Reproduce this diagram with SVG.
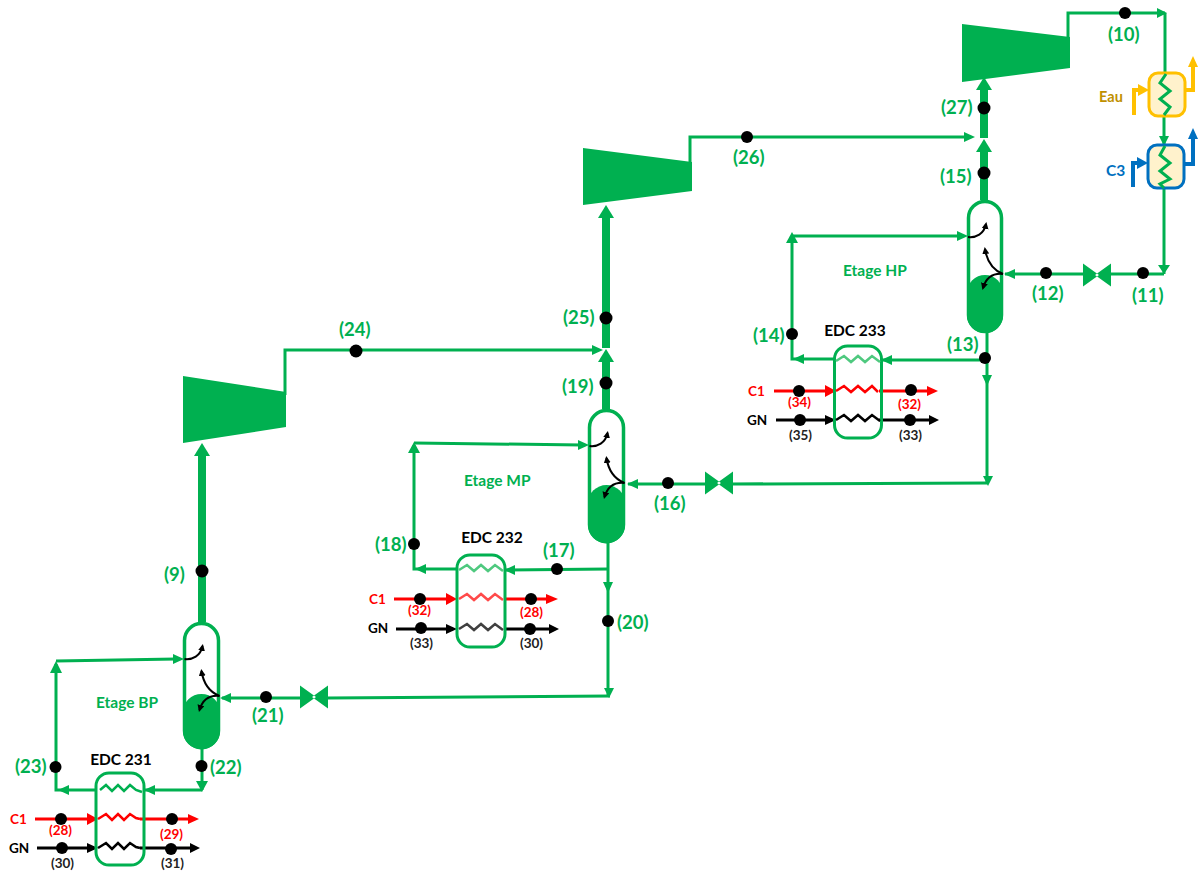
<svg xmlns="http://www.w3.org/2000/svg" width="1198" height="873" viewBox="0 0 1198 873">
<style>
text{font-family:Lato,"Open Sans","Liberation Sans",sans-serif;font-weight:700}
.lg{font-size:18.500px;fill:#00b050}
.st{font-size:15.500px;fill:#00b050}
.ed{font-size:15.500px;fill:#000}
.c1{font-size:13.500px;fill:#f00}
.gn{font-size:13.500px;fill:#000}
.sr{font-size:13.500px;fill:#f00}
.sk{font-size:13.500px;fill:#222}
.g{fill:none;stroke:#00b050;stroke-width:3}
.t{fill:none;stroke:#00b050;stroke-width:8}
.r{fill:none;stroke:#f00;stroke-width:3}
.k{fill:none;stroke:#000;stroke-width:3}
.z{fill:none;stroke-width:2.500}
.ga{fill:#00b050}.ra{fill:#f00}.ka{fill:#000}
.d{fill:#000}
.cv{fill:none;stroke:#000;stroke-width:2}
.v{fill:#fff;stroke:#00b050;stroke-width:3.500}
.x{fill:none;stroke:#00b050;stroke-width:3}
</style>
<defs>
<marker id="kh" markerWidth="8" markerHeight="8" refX="5" refY="3.500" orient="auto" markerUnits="userSpaceOnUse"><path d="M0 0L7 3.500L0 7Z" fill="#000"/></marker>
<g id="curves">
<path d="M-17 37 C-9 38 -1 34 1 24" class="cv" marker-end="url(#kh)"/>
<path d="M18 74 C8 70 2 62 0 49" class="cv" marker-end="url(#kh)"/>
<path d="M18 74 C8 73 1 78 -2 88" class="cv" marker-end="url(#kh)"/>
</g>
<path id="valve" d="M-14 -11.500L2 0L-14 11.500Z M14 -11.500L-2 0L14 11.500Z" fill="#00b050"/>
</defs>

<g id="connectors">
<!-- BP stage -->
<path class="t" d="M202 622V452"/><path class="ga" d="M194 456L202 443L210 456Z"/>
<path class="g" d="M202 749V790"/><path class="ga" d="M196 781H208L202 792Z"/>
<path class="g" d="M202 790H145"/><path class="ga" d="M155 785L144 790L155 795Z"/>
<path class="g" d="M96 790H56V664"/><path class="ga" d="M50 673L56 661L62 673Z"/><path class="ga" d="M69 785L58 790L69 795Z"/>
<path class="g" d="M56 661L176 659"/><path class="ga" d="M173 654L184 659L173 664Z"/>
<path class="g" d="M610 696L328 698"/><path class="g" d="M300 698H222"/><path class="ga" d="M231 693L220 698L231 703Z"/>
<path class="r" d="M35 819H94"/><path class="ra" d="M87 813L98 819L87 825Z"/>
<path class="r" d="M140 819H190"/><path class="ra" d="M188 814L199 819L188 824Z"/>
<path class="k" d="M37 848H94"/><path class="ka" d="M87 843L98 848L87 853Z"/>
<path class="k" d="M140 848H192"/><path class="ka" d="M190 843L200 848L190 853Z"/>
<!-- compressor BP outlet -->
<path class="g" d="M285 395V350H598"/><path class="ga" d="M592 345L603 350L592 355Z"/>
<!-- MP stage -->
<path class="t" d="M606 409V358"/><path class="ga" d="M598 362L606 349L614 362Z"/>
<path class="t" d="M606 348V215"/><path class="ga" d="M598 218L606 205L614 218Z"/>
<path class="g" d="M608 543V696"/><path class="ga" d="M603 582H613L608 593Z"/><path class="ga" d="M604 688H614L609 698Z"/>
<path class="g" d="M608 569L506 570"/><path class="ga" d="M515 565L504 570L515 575Z"/>
<path class="g" d="M456 569H414V445"/><path class="ga" d="M426 564L415 569L426 574Z"/><path class="ga" d="M408 453L414 442L420 453Z"/>
<path class="g" d="M414 443L582 445"/><path class="ga" d="M578 440L589 445L578 450Z"/>
<path class="g" d="M988 483L732 484"/><path class="g" d="M705 484H628"/><path class="ga" d="M638 479L627 484L638 489Z"/>
<path class="r" d="M394 599H453"/><path class="ra" d="M446 593L457 599L446 605Z"/>
<path class="r" d="M505 599H548"/><path class="ra" d="M546 594L558 599L546 604Z"/>
<path class="k" d="M396 629H453"/><path class="ka" d="M446 624L457 629L446 634Z"/>
<path class="k" d="M505 629H550"/><path class="ka" d="M549 624L559 629L549 634Z"/>
<!-- compressor MP outlet -->
<path class="g" d="M690 165V137H968"/><path class="ga" d="M964 132L975 137L964 142Z"/>
<!-- HP stage -->
<path class="t" d="M984 200V148"/><path class="ga" d="M976 152L984 139L992 152Z"/>
<path class="t" d="M984 138V86"/><path class="ga" d="M976 90L984 77L992 90Z"/>
<path class="g" d="M987 333V483"/><path class="ga" d="M982 375H992L987 386Z"/><path class="ga" d="M983 476H993L988 486Z"/>
<path class="g" d="M985 360H882"/><path class="ga" d="M892 355L881 360L892 365Z"/>
<path class="g" d="M834 359H792V238"/><path class="ga" d="M804 354L793 359L804 364Z"/><path class="ga" d="M786 243L792 232L798 243Z"/>
<path class="g" d="M792 236H960"/><path class="ga" d="M957 231L968 236L957 241Z"/>
<path class="g" d="M1111 274H1164"/><path class="g" d="M1084 274H1005"/><path class="ga" d="M1015 269L1004 274L1015 279Z"/>
<path class="g" d="M1164 188V274"/><path class="ga" d="M1158 265H1170L1164 274Z"/>
<path class="g" d="M1068 40V13H1165"/><path class="ga" d="M1157 8L1167 13L1157 18Z"/>
<path class="g" d="M1165 13V74"/>
<path class="g" d="M1164 115V145"/><path class="ga" d="M1159 136H1169L1164 146Z"/>
<path class="r" d="M774 391H832"/><path class="ra" d="M825 385L836 391L825 397Z"/>
<path class="r" d="M879 391H928"/><path class="ra" d="M927 386L938 391L927 396Z"/>
<path class="k" d="M776 420H832"/><path class="ka" d="M825 415L836 420L825 425Z"/>
<path class="k" d="M879 420H930"/><path class="ka" d="M929 415L939 420L929 425Z"/>
<!-- Eau / C3 -->
<path fill="none" stroke="#ffc000" stroke-width="4" d="M1134 115V90H1142"/><path fill="#ffc000" d="M1138 84L1149 90L1138 96Z"/>
<path fill="none" stroke="#ffc000" stroke-width="4" d="M1185 90H1193V66"/><path fill="#ffc000" d="M1188 67L1193 56L1198 67Z"/>
<path fill="none" stroke="#0070c0" stroke-width="4" d="M1133 187V163H1142"/><path fill="#0070c0" d="M1137 157L1148 163L1137 169Z"/>
<path fill="none" stroke="#0070c0" stroke-width="4" d="M1184 164H1193V137"/><path fill="#0070c0" d="M1188 139L1193 128L1198 139Z"/>
</g>

<g id="comp-bp"><path class="ga" d="M183 376L286 392V427L183 443Z"/></g>
<g id="comp-mp"><path class="ga" d="M583 148L692 162V191L583 205Z"/></g>
<g id="comp-hp"><path class="ga" d="M962 24L1070 37V68L962 82Z"/></g>

<g id="col-bp">
<rect x="184.500" y="623.500" width="34" height="124" rx="17" class="v"/>
<path class="ga" d="M183 731V712A18.500 18 0 0 1 220 712V731A18.500 18.500 0 0 1 183 731Z"/>
<use href="#curves" transform="translate(201.500 622)"/>
</g>
<g id="col-mp">
<rect x="589.500" y="410.500" width="34" height="131" rx="17" class="v"/>
<path class="ga" d="M588 525V503A18.500 18 0 0 1 625 503V525A18.500 18.500 0 0 1 588 525Z"/>
<use href="#curves" transform="translate(606.500 409)"/>
</g>
<g id="col-hp">
<rect x="968.500" y="201.500" width="33" height="130" rx="16.500" class="v"/>
<path class="ga" d="M967 315V293A18 18 0 0 1 1003 293V315A18 18 0 0 1 967 315Z"/>
<use href="#curves" transform="translate(985 200)"/>
</g>

<g id="valve-bp"><use href="#valve" transform="translate(314 697)"/></g>
<g id="valve-mp"><use href="#valve" transform="translate(719 483)"/></g>
<g id="valve-hp"><use href="#valve" transform="translate(1097 275)"/></g>

<g id="edc231">
<rect x="96" y="773" width="48" height="92" rx="13" class="x"/>
<path class="z" stroke="#00b050" d="M100 790L106 785L112 791L118 785L124 791L130 785L136 790L142 792"/>
<path class="z" stroke="#f00" d="M98 819L106 814L112 820L118 814L124 820L130 814L136 818L140 819"/>
<path class="z" stroke="#000" d="M98 848L106 843L112 849L118 843L124 849L130 843L136 847L140 848"/>
<text class="ed" x="121" y="765" text-anchor="middle">EDC 231</text>
</g>
<g id="edc232">
<rect x="457" y="555" width="48" height="92" rx="13" class="x"/>
<path class="z" stroke="#4fc97f" d="M459 570L467 565L474 571L481 565L488 571L495 565L503 571"/>
<path class="z" stroke="#ff4a4a" d="M459 599L467 594L474 600L481 594L488 600L495 594L503 600"/>
<path class="z" stroke="#404040" d="M459 629L467 624L474 630L481 624L488 630L495 624L503 630"/>
<text class="ed" x="492" y="543" text-anchor="middle">EDC 232</text>
</g>
<g id="edc233">
<rect x="834.500" y="346" width="47" height="92" rx="13" class="x"/>
<path class="z" stroke="#4fc97f" d="M836 361L844 356L851 362L858 356L865 362L872 356L880 362"/>
<path class="z" stroke="#f00" d="M836 391L844 386L851 392L858 386L865 392L872 386L878 392"/>
<path class="z" stroke="#000" d="M836 420L844 415L851 421L858 415L865 421L872 415L880 421"/>
<text class="ed" x="855" y="336" text-anchor="middle">EDC 233</text>
</g>
<g id="hx-eau">
<rect x="1149" y="73" width="36" height="43" rx="9" fill="#fff2cc" stroke="#ffc000" stroke-width="3"/>
<path fill="none" stroke="#00b050" stroke-width="3" d="M1166 74L1160 83L1170 91L1160 99L1170 107L1164 115"/>
</g>
<g id="hx-c3">
<rect x="1148" y="145" width="36" height="43" rx="9" fill="#fff2cc" stroke="#0070c0" stroke-width="3"/>
<path fill="none" stroke="#00b050" stroke-width="3" d="M1165 146L1160 155L1170 163L1160 171L1170 179L1160 184L1164 188"/>
</g>

<g id="points">
<circle class="d" cx="202" cy="571" r="6.500"/><circle class="d" cx="201.500" cy="766" r="6"/><circle class="d" cx="55.500" cy="767" r="6"/><circle class="d" cx="266" cy="697" r="6"/>
<circle class="d" cx="61" cy="819" r="6"/><circle class="d" cx="172" cy="819" r="6"/><circle class="d" cx="62" cy="848" r="6"/><circle class="d" cx="171" cy="849" r="6"/>
<circle class="d" cx="356" cy="351" r="6.500"/><circle class="d" cx="606" cy="318" r="6.500"/><circle class="d" cx="606" cy="383" r="6.500"/>
<circle class="d" cx="414" cy="544" r="6"/><circle class="d" cx="557" cy="569" r="6"/><circle class="d" cx="608" cy="621" r="6"/><circle class="d" cx="668" cy="483" r="6"/>
<circle class="d" cx="420" cy="599" r="6"/><circle class="d" cx="531" cy="599" r="6"/><circle class="d" cx="421" cy="628" r="6"/><circle class="d" cx="530" cy="629" r="6"/>
<circle class="d" cx="747" cy="137" r="6"/><circle class="d" cx="984" cy="108" r="6.500"/><circle class="d" cx="984" cy="173" r="6.500"/>
<circle class="d" cx="792" cy="334" r="6"/><circle class="d" cx="985" cy="358" r="6"/>
<circle class="d" cx="799" cy="391" r="6"/><circle class="d" cx="911" cy="390" r="6"/><circle class="d" cx="800" cy="420" r="6"/><circle class="d" cx="910" cy="420" r="6"/>
<circle class="d" cx="1046" cy="273" r="6"/><circle class="d" cx="1143" cy="273" r="6"/><circle class="d" cx="1125" cy="13" r="6"/>
</g>

<g id="labels">
<text class="lg" x="164" y="581">(9)</text><text class="lg" x="210" y="774">(22)</text><text class="lg" x="15" y="773">(23)</text><text class="lg" x="252" y="722">(21)</text><text class="st" x="96" y="708">Etage BP</text>
<text class="c1" x="10" y="824">C1</text><text class="gn" x="9" y="853">GN</text><text class="sr" x="49" y="835">(28)</text><text class="sr" x="160" y="839">(29)</text><text class="sk" x="51" y="868">(30)</text><text class="sk" x="161" y="868">(31)</text>
<text class="lg" x="339" y="336">(24)</text><text class="lg" x="563" y="324">(25)</text><text class="lg" x="562" y="393">(19)</text><text class="lg" x="375" y="551">(18)</text><text class="lg" x="543" y="557">(17)</text><text class="lg" x="617" y="629">(20)</text><text class="lg" x="654" y="510">(16)</text><text class="st" x="464" y="486">Etage MP</text>
<text class="c1" x="369" y="604">C1</text><text class="gn" x="368" y="633">GN</text><text class="sr" x="408" y="615">(32)</text><text class="sr" x="520" y="617">(28)</text><text class="sk" x="410" y="648">(33)</text><text class="sk" x="520" y="648">(30)</text>
<text class="lg" x="733" y="164">(26)</text><text class="lg" x="941" y="114">(27)</text><text class="lg" x="940" y="183">(15)</text><text class="lg" x="753" y="342">(14)</text><text class="lg" x="947" y="351">(13)</text><text class="lg" x="1032" y="300">(12)</text><text class="lg" x="1132" y="302">(11)</text><text class="lg" x="1108" y="41">(10)</text><text class="st" x="843" y="276">Etage HP</text>
<text class="c1" x="748" y="396">C1</text><text class="gn" x="747" y="425">GN</text><text class="sr" x="788" y="407">(34)</text><text class="sr" x="898" y="409">(32)</text><text class="sk" x="789" y="440">(35)</text><text class="sk" x="899" y="440">(33)</text>
<text x="1099" y="102" font-size="14.500" fill="#bf9000">Eau</text><text x="1106" y="176" font-size="15.500" fill="#0070c0">C3</text>
</g>
</svg>
